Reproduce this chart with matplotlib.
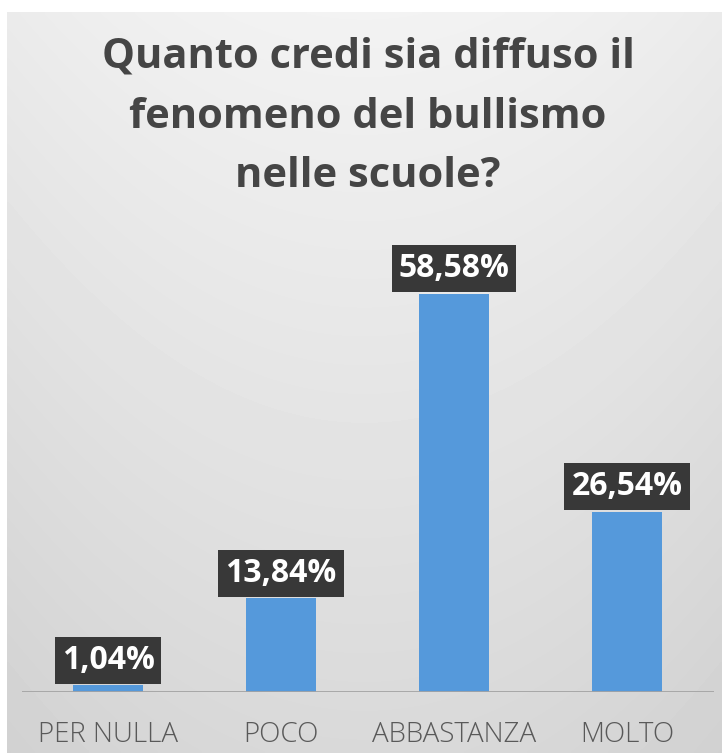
import matplotlib.pyplot as plt
import numpy as np

categorie = ["PER NULLA", "POCO", "ABBASTANZA", "MOLTO"]
percentuali = [1.04, 13.84, 58.58, 26.54]
etichette = ["1,04%", "13,84%", "58,58%", "26,54%"]
titolo = "Quanto credi sia diffuso il\nfenomeno del bullismo\nnelle scuole?"

plt.rcParams['font.family'] = ['Open Sans', 'DejaVu Sans']

fig = plt.figure(figsize=(7.22, 7.53), dpi=100)
fig.patch.set_facecolor("white")

# sfondo grigio sfumato (area del grafico)
bg = fig.add_axes([7/722, 0, 1 - 7/722, 1 - 12/753], zorder=-10)
yy, xx = np.mgrid[0:1:200j, -1:1:200j]
grad = 0.95 - 0.10 * yy - 0.03 * xx**2
bg.imshow(grad, cmap="gray", vmin=0, vmax=1, aspect="auto",
          extent=[0, 1, 1, 0], interpolation="bilinear")
bg.set_axis_off()

ax = fig.add_axes([21.5/722, 61/753, 692/722, 442/753])
ax.patch.set_alpha(0)
x = np.arange(len(categorie))
ax.bar(x, percentuali, width=0.4, color="#5599db", zorder=2)
ax.set_xlim(-0.5, 3.5)
ax.set_ylim(0, 65)
ax.axhline(0, color="#a3a3a3", lw=2, zorder=3)

for xi, v, lab in zip(x, percentuali, etichette):
    ax.annotate(lab, (xi, v), xytext=(0, 6), textcoords="offset points",
                ha="center", va="bottom", color="white", fontsize=23,
                fontweight="bold", zorder=4,
                bbox=dict(boxstyle="square,pad=0.22", fc="#383838", ec="none"))

ax.set_xticks(x)
ax.set_xticklabels(categorie, fontsize=20, color="#595959", fontweight="light")
ax.tick_params(axis="x", length=0, pad=21)
ax.set_yticks([])
for s in ax.spines.values():
    s.set_visible(False)

fig.text(368/722, 1 - 117/753, titolo, ha="center", va="center",
         fontsize=30, fontweight="bold", color="#454545", linespacing=1.6)

fig.savefig("out.png", dpi=100)
